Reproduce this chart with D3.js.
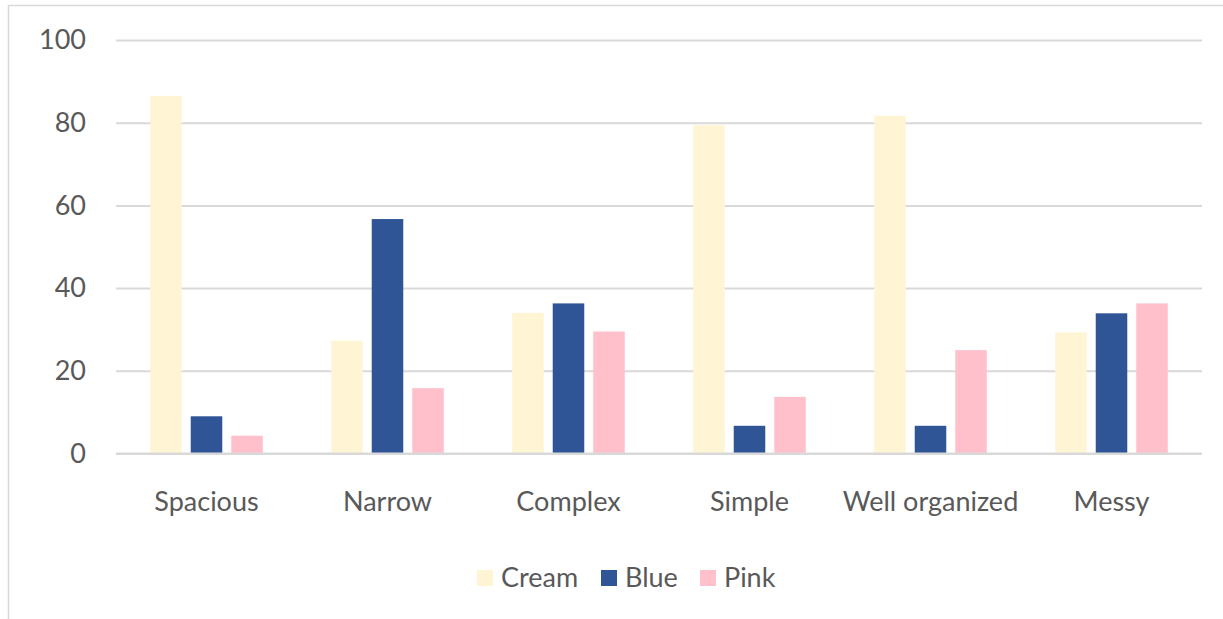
<!DOCTYPE html>
<html>
<head>
<meta charset="utf-8">
<script src="https://cdn.jsdelivr.net/npm/d3@7"></script>
<style>
html,body{margin:0;padding:0;background:#fff;}
svg{display:block;}
text{font-family:Lato, "Open Sans", sans-serif;fill:#595959;}
</style>
</head>
<body>
<svg id="chart" width="1223" height="619"></svg>
<script>
const categories = ["Spacious", "Narrow", "Complex", "Simple", "Well organized", "Messy"];
const seriesNames = ["Cream", "Blue", "Pink"];
const cream = [86.5, 27.3, 34.0, 79.4, 81.7, 29.3];
const blue = [9.0, 56.7, 36.3, 6.7, 6.7, 33.9];
const pink = [4.3, 15.8, 29.5, 13.7, 25.0, 36.3];
const yTicks = [0, 20, 40, 60, 80, 100];
const colors = ["#FFF4D3", "#2F5597", "#FFC0CB"];

const seriesValues = [cream, blue, pink];
const svg = d3.select("#chart");

// chart frame
svg.append("rect").attr("x", 8.5).attr("y", 5.5).attr("width", 1300).attr("height", 700)
  .attr("fill", "none").attr("stroke", "#D9D9D9").attr("stroke-width", 1.5);

const plotLeft = 116, plotRight = 1202, plotTop = 40, plotBottom = 453.5;

const y = d3.scaleLinear().domain([0, 100]).range([plotBottom, plotTop]);
const x0 = d3.scaleBand().domain(categories).range([plotLeft, plotRight])
  .paddingInner(0.378).paddingOuter(0.189);
const x1 = d3.scaleBand().domain(seriesNames).range([0, x0.bandwidth()]).paddingInner(0.222).paddingOuter(0);
const color = d3.scaleOrdinal().domain(seriesNames).range(colors);

// gridlines
const yAxis = d3.axisLeft(y).tickValues(yTicks).tickSize(-(plotRight - plotLeft)).tickPadding(30);
const gy = svg.append("g").attr("transform", `translate(${plotLeft},0)`).call(yAxis);
gy.select(".domain").remove();
gy.selectAll(".tick line").attr("stroke", "#D9D9D9").attr("stroke-width", 2);
gy.selectAll(".tick text").attr("font-size", 27).attr("fill", "#595959")
  .style("font-family", "Lato, sans-serif");

// bars
const groups = svg.append("g").selectAll("g").data(categories).join("g")
  .attr("transform", d => `translate(${x0(d)},0)`);
groups.selectAll("rect")
  .data((d, i) => seriesNames.map((s, j) => ({ s, v: seriesValues[j][i] })))
  .join("rect")
  .attr("x", d => x1(d.s))
  .attr("y", d => y(d.v))
  .attr("width", x1.bandwidth())
  .attr("height", d => plotBottom - y(d.v))
  .attr("fill", d => color(d.s));

// zero line
svg.append("line").attr("x1", plotLeft).attr("x2", plotRight).attr("y1", plotBottom).attr("y2", plotBottom)
  .attr("stroke", "#D9D9D9").attr("stroke-width", 2);

// category labels
const xAxis = d3.axisBottom(x0).tickSize(0).tickPadding(0);
const gx = svg.append("g").attr("transform", `translate(0,${plotBottom})`).call(xAxis);
gx.select(".domain").remove();
gx.selectAll(".tick text").attr("font-size", 27).attr("dy", null).attr("y", 57)
  .attr("fill", "#595959").style("font-family", "Lato, sans-serif");

// legend
const legendX = [477, 601, 700];
const legend = svg.append("g");
seriesNames.forEach((s, i) => {
  legend.append("rect").attr("x", legendX[i]).attr("y", 570).attr("width", 16).attr("height", 16)
    .attr("fill", color(s));
  legend.append("text").attr("x", legendX[i] + 24).attr("y", 586.5).attr("font-size", 27)
    .text(s);
});
</script>
</body>
</html>
